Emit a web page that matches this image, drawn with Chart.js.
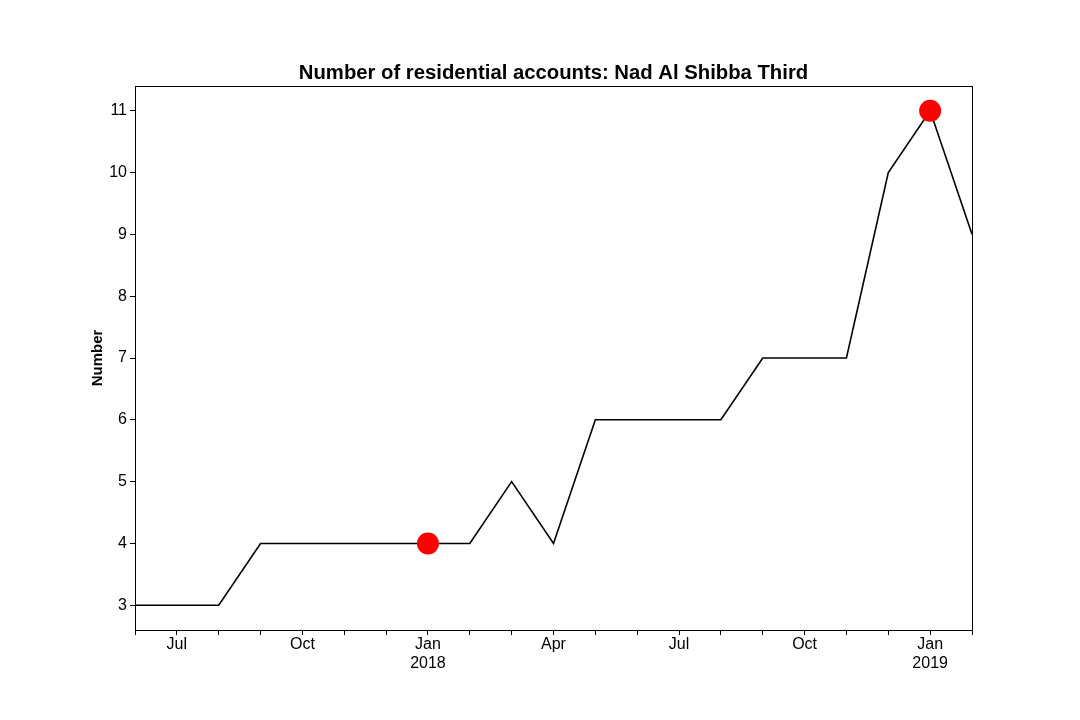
<!DOCTYPE html>
<html>
<head>
<meta charset="utf-8">
<script src="https://cdn.jsdelivr.net/npm/chart.js@4.4.1/dist/chart.umd.min.js"></script>
<style>
  html, body { margin: 0; padding: 0; background: #fff; }
  #wrap { width: 1080px; height: 720px; }
</style>
</head>
<body>
<div id="wrap"><canvas id="line-chart" width="1080" height="720"></canvas></div>
<script>
// monthly series, Jun 2017 .. Feb 2019
var months = ['Jun', 'Jul', 'Aug', 'Sep', 'Oct', 'Nov', 'Dec',
              'Jan', 'Feb', 'Mar', 'Apr', 'May', 'Jun', 'Jul', 'Aug',
              'Sep', 'Oct', 'Nov', 'Dec', 'Jan', 'Feb'];
var accounts = [3, 3, 3, 4, 4, 4, 4, 4, 4, 5, 4, 6, 6, 6, 6, 7, 7, 7, 10, 11, 9];
var highlighted = [7, 19];
// tick labels shown on x axis (index -> label)
var xTickLabels = {1: 'Jul', 4: 'Oct', 7: ['Jan', '2018'], 10: 'Apr', 13: 'Jul', 16: 'Oct', 19: ['Jan', '2019']};
var yTicks = [3, 4, 5, 6, 7, 8, 9, 10, 11];
var chartTitle = 'Number of residential accounts: Nad Al Shibba Third';

var linePoints = accounts.map(function (v, i) { return {x: i, y: v}; });
var markerPoints = highlighted.map(function (i) { return {x: i, y: accounts[i]}; });

var font = 'Liberation Sans';

// box round the plot + title centred over the plot area (like matplotlib)
var frame = {
    id: 'frame',
    afterDraw: function (chart) {
        var a = chart.chartArea, ctx = chart.ctx;
        ctx.save();
        ctx.strokeStyle = '#000';
        ctx.lineWidth = 1;
        ctx.strokeRect(Math.round(a.left) + 0.5, Math.round(a.top) + 0.5,
                       Math.round(a.right - a.left), Math.round(a.bottom - a.top));
        ctx.fillStyle = '#000';
        ctx.font = 'bold 20.3px "' + font + '"';
        ctx.textAlign = 'center';
        ctx.textBaseline = 'alphabetic';
        ctx.fillText(chartTitle, (a.left + a.right) / 2, a.top - 7);
        ctx.restore();
    }
};

var config = {
    type: 'line',
    data: {
        datasets: [{
            label: 'highlight',
            data: markerPoints,
            showLine: false,
            pointRadius: 11,
            pointBackgroundColor: '#ff0000',
            pointBorderColor: '#ff0000',
            pointBorderWidth: 0
        }, {
            label: 'accounts',
            data: linePoints,
            borderColor: '#000000',
            borderWidth: 1.6,
            pointRadius: 0,
            tension: 0,
            fill: false
        }]
    },
    options: {
        responsive: false,
        animation: false,
        layout: { padding: { left: 85, right: 108, top: 86, bottom: 40 } },
        plugins: {
            legend: { display: false },
            tooltip: { enabled: false },
            title: { display: false }
        },
        scales: {
            x: {
                type: 'linear',
                min: 0,
                max: 20,
                afterFit: function (s) { s.height = 50; },
                afterBuildTicks: function (s) {
                    s.ticks = months.map(function (m, i) { return {value: i}; });
                },
                ticks: {
                    autoSkip: false,
                    maxRotation: 0,
                    color: '#000',
                    font: { family: font, size: 16, lineHeight: 1.2 },
                    padding: 0,
                    callback: function (v) { return xTickLabels[v] || ''; }
                },
                grid: { display: true, drawOnChartArea: false, tickLength: 5, color: '#000' },
                border: { color: '#000' }
            },
            y: {
                min: 2.6,
                max: 11.4,
                afterFit: function (s) { s.width = 50; },
                afterBuildTicks: function (s) {
                    s.ticks = yTicks.map(function (v) { return {value: v}; });
                },
                title: {
                    display: true,
                    text: 'Number',
                    color: '#000',
                    font: { family: font, size: 15, weight: 'bold' },
                    padding: { top: 4, bottom: 0 }
                },
                ticks: {
                    color: '#000',
                    font: { family: font, size: 16 },
                    padding: 3
                },
                grid: { display: true, drawOnChartArea: false, tickLength: 5, color: '#000' },
                border: { color: '#000' }
            }
        }
    },
    plugins: [frame]
};

var lineContext = document.getElementById('line-chart').getContext('2d');
window.myLine = new Chart(lineContext, config);
</script>
</body>
</html>
